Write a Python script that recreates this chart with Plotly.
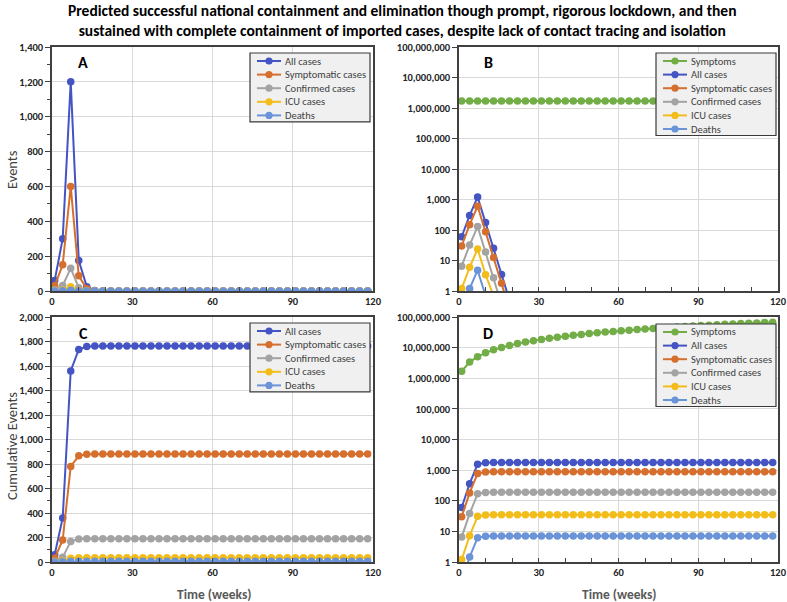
import plotly.graph_objects as go

# ---------------- data ----------------
weeks = [1, 4, 7, 10, 13, 16, 19, 22, 25, 28, 31, 34, 37, 40, 43, 46, 49, 52, 55, 58,
         61, 64, 67, 70, 73, 76, 79, 82, 85, 88, 91, 94, 97, 100, 103, 106, 109, 112, 115, 118]

# weekly events (panels A, B)
symptoms_w = [1.69e6, 1.69e6, 1.69e6, 1.69e6, 1.69e6, 1.69e6, 1.69e6, 1.69e6, 1.69e6, 1.69e6,
              1.69e6, 1.69e6, 1.69e6, 1.69e6, 1.69e6, 1.69e6, 1.69e6, 1.69e6, 1.69e6, 1.69e6,
              1.69e6, 1.69e6, 1.69e6, 1.69e6, 1.69e6, 1.69e6, 1.69e6, 1.69e6, 1.69e6, 1.69e6,
              1.69e6, 1.69e6, 1.69e6, 1.69e6, 1.69e6, 1.69e6, 1.69e6, 1.69e6, 1.69e6, 1.69e6]
all_w = [60, 300, 1200, 175, 25, 3.5, 0.5, 0, 0, 0, 0, 0, 0, 0, 0, 0, 0, 0, 0, 0,
         0, 0, 0, 0, 0, 0, 0, 0, 0, 0, 0, 0, 0, 0, 0, 0, 0, 0, 0, 0]
symp_w = [30, 150, 600, 87, 12.5, 1.8, 0.25, 0, 0, 0, 0, 0, 0, 0, 0, 0, 0, 0, 0, 0,
          0, 0, 0, 0, 0, 0, 0, 0, 0, 0, 0, 0, 0, 0, 0, 0, 0, 0, 0, 0]
conf_w = [6.5, 32, 130, 19, 2.7, 0.4, 0.05, 0, 0, 0, 0, 0, 0, 0, 0, 0, 0, 0, 0, 0,
          0, 0, 0, 0, 0, 0, 0, 0, 0, 0, 0, 0, 0, 0, 0, 0, 0, 0, 0, 0]
icu_w = [1.2, 6, 24, 3.4, 0.7, 0.07, 0, 0, 0, 0, 0, 0, 0, 0, 0, 0, 0, 0, 0, 0,
         0, 0, 0, 0, 0, 0, 0, 0, 0, 0, 0, 0, 0, 0, 0, 0, 0, 0, 0, 0]
death_w = [0.25, 1.2, 4.8, 0.6, 0.1, 0.015, 0, 0, 0, 0, 0, 0, 0, 0, 0, 0, 0, 0, 0, 0,
           0, 0, 0, 0, 0, 0, 0, 0, 0, 0, 0, 0, 0, 0, 0, 0, 0, 0, 0, 0]

# cumulative events (panels C, D)
symptoms_c = [1.69e6, 3.38e6, 5.07e6, 6.76e6, 8.45e6, 10.14e6, 11.83e6, 13.52e6, 15.21e6, 16.9e6,
              18.59e6, 20.28e6, 21.97e6, 23.66e6, 25.35e6, 27.04e6, 28.73e6, 30.42e6, 32.11e6, 33.8e6,
              35.49e6, 37.18e6, 38.87e6, 40.56e6, 42.25e6, 43.94e6, 45.63e6, 47.32e6, 49.01e6, 50.7e6,
              52.39e6, 54.08e6, 55.77e6, 57.46e6, 59.15e6, 60.84e6, 62.53e6, 64.22e6, 65.91e6, 67.6e6]
all_c = [60, 360, 1560, 1735, 1760, 1763, 1764, 1764, 1764, 1764, 1764, 1764, 1764, 1764, 1764, 1764, 1764, 1764, 1764, 1764,
         1764, 1764, 1764, 1764, 1764, 1764, 1764, 1764, 1764, 1764, 1764, 1764, 1764, 1764, 1764, 1764, 1764, 1764, 1764, 1764]
symp_c = [30, 180, 780, 867, 880, 882, 882, 882, 882, 882, 882, 882, 882, 882, 882, 882, 882, 882, 882, 882,
          882, 882, 882, 882, 882, 882, 882, 882, 882, 882, 882, 882, 882, 882, 882, 882, 882, 882, 882, 882]
conf_c = [6.5, 38, 168, 187, 190, 190, 190, 190, 190, 190, 190, 190, 190, 190, 190, 190, 190, 190, 190, 190,
          190, 190, 190, 190, 190, 190, 190, 190, 190, 190, 190, 190, 190, 190, 190, 190, 190, 190, 190, 190]
icu_c = [1.2, 7.2, 31, 34.5, 35, 35, 35, 35, 35, 35, 35, 35, 35, 35, 35, 35, 35, 35, 35, 35,
         35, 35, 35, 35, 35, 35, 35, 35, 35, 35, 35, 35, 35, 35, 35, 35, 35, 35, 35, 35]
death_c = [0.25, 1.45, 6.25, 6.9, 7, 7, 7, 7, 7, 7, 7, 7, 7, 7, 7, 7, 7, 7, 7, 7,
           7, 7, 7, 7, 7, 7, 7, 7, 7, 7, 7, 7, 7, 7, 7, 7, 7, 7, 7, 7]

series_names = ["Symptoms", "All cases", "Symptomatic cases", "Confirmed cases", "ICU cases", "Deaths"]
x_ticks = [0, 30, 60, 90, 120]
log_tickvals = [1, 10, 100, 1000, 10000, 100000, 1000000, 10000000, 100000000]
log_ticktext = ["1", "10", "100", "1,000", "10,000", "100,000", "1,000,000", "10,000,000", "100,000,000"]

title_text = ("<b>Predicted successful national containment and elimination though prompt, rigorous lockdown, and then<br>"
              "sustained with complete containment of imported cases, despite lack of contact tracing and isolation</b>")

# ---------------- styling ----------------
COLORS = {"Symptoms": "#72AD47", "All cases": "#4454C3", "Symptomatic cases": "#D56F2E",
          "Confirmed cases": "#A3A3A3", "ICU cases": "#F2BD1B", "Deaths": "#6B93D8"}
FONT = "Carlito, Calibri, Lato, sans-serif"
AXC = "#404040"
GRID = "#D9D9D9"
W, H = 787, 602

fig = go.Figure()

panels = [
    ("x", "y", {"All cases": all_w, "Symptomatic cases": symp_w, "Confirmed cases": conf_w,
                "ICU cases": icu_w, "Deaths": death_w}),
    ("x2", "y2", {"Symptoms": symptoms_w, "All cases": all_w, "Symptomatic cases": symp_w,
                  "Confirmed cases": conf_w, "ICU cases": icu_w, "Deaths": death_w}),
    ("x3", "y3", {"All cases": all_c, "Symptomatic cases": symp_c, "Confirmed cases": conf_c,
                  "ICU cases": icu_c, "Deaths": death_c}),
    ("x4", "y4", {"Symptoms": symptoms_c, "All cases": all_c, "Symptomatic cases": symp_c,
                  "Confirmed cases": conf_c, "ICU cases": icu_c, "Deaths": death_c}),
]

for xa, ya, data in panels:
    for name in series_names:
        if name not in data:
            continue
        fig.add_trace(go.Scatter(
            x=weeks, y=data[name], name=name, mode="lines+markers",
            xaxis=xa, yaxis=ya, showlegend=False,
            line=dict(color=COLORS[name], width=2),
            marker=dict(color=COLORS[name], size=7.5),
        ))

def px_x(p):
    return p / W

def px_y(p):
    return 1 - p / H

xdom_l = [px_x(52), px_x(373)]
xdom_r = [px_x(459), px_x(778)]
ydom_t = [px_y(291), px_y(47)]
ydom_b = [px_y(562), px_y(317)]

tickfont = dict(family=FONT, size=10.5, color="#262626", weight="bold")

def xaxis(dom, anchor):
    return dict(domain=dom, anchor=anchor, range=[0, 120], tickvals=x_ticks, automargin=False,
                showgrid=True, gridcolor=GRID, gridwidth=1, zeroline=False,
                showline=True, linecolor=AXC, linewidth=1.5, mirror=True,
                ticks="inside", ticklen=4, tickcolor=AXC,
                minor=dict(dtick=10, ticks="inside", ticklen=4, tickcolor=AXC, showgrid=False),
                tickfont=tickfont)

def yaxis_lin(dom, anchor, top):
    return dict(domain=dom, anchor=anchor, range=[0, top], dtick=200, tickformat=",", automargin=False,
                showgrid=True, gridcolor=GRID, gridwidth=1, zeroline=False,
                showline=True, linecolor=AXC, linewidth=1.5, mirror=True,
                ticks="outside", ticklen=5, tickcolor=AXC,
                minor=dict(dtick=100, ticks="outside", ticklen=3, tickcolor=AXC, showgrid=False),
                tickfont=tickfont)

def yaxis_log(dom, anchor):
    return dict(domain=dom, anchor=anchor, type="log", range=[0, 8], automargin=False,
                tickvals=log_tickvals, ticktext=log_ticktext,
                showgrid=True, gridcolor=GRID, gridwidth=1, zeroline=False,
                showline=True, linecolor=AXC, linewidth=1.5, mirror=True,
                ticks="outside", ticklen=5, tickcolor=AXC,
                tickfont=tickfont)

fig.update_layout(
    width=W, height=H, margin=dict(l=0, r=0, t=0, b=0, autoexpand=False),
    paper_bgcolor="white", plot_bgcolor="white",
    showlegend=False,
    xaxis=xaxis(xdom_l, "y"), yaxis=yaxis_lin(ydom_t, "x", 1400),
    xaxis2=xaxis(xdom_r, "y2"), yaxis2=yaxis_log(ydom_t, "x2"),
    xaxis3=xaxis(xdom_l, "y3"), yaxis3=yaxis_lin(ydom_b, "x3", 2000),
    xaxis4=xaxis(xdom_r, "y4"), yaxis4=yaxis_log(ydom_b, "x4"),
)

# ---------------- legends (drawn as paper-space shapes + text) ----------------
def add_legend(left, top, width, names):
    row0, step = 8, 13.6
    height = row0 + (len(names) - 1) * step + 6.5
    fig.add_shape(type="rect", xref="paper", yref="paper",
                  x0=px_x(left), x1=px_x(left + width), y0=px_y(top + height), y1=px_y(top),
                  fillcolor="#F0F0F0", line=dict(color="#3A3A3A", width=1.2), layer="above")
    for i, name in enumerate(names):
        yc = top + row0 + i * step
        c = COLORS[name]
        fig.add_shape(type="line", xref="paper", yref="paper",
                      x0=px_x(left + 7), x1=px_x(left + 31), y0=px_y(yc), y1=px_y(yc),
                      line=dict(color=c, width=2), layer="above")
        r = 3.6
        fig.add_shape(type="circle", xref="paper", yref="paper",
                      x0=px_x(left + 19 - r), x1=px_x(left + 19 + r),
                      y0=px_y(yc + r), y1=px_y(yc - r),
                      fillcolor=c, line=dict(color=c, width=0), layer="above")
        fig.add_annotation(text=name, x=px_x(left + 32.5), y=px_y(yc), xref="paper", yref="paper",
                           xanchor="left", yanchor="middle", showarrow=False,
                           font=dict(family=FONT, size=10.5, color="#404040"))

five = ["All cases", "Symptomatic cases", "Confirmed cases", "ICU cases", "Deaths"]
six = ["Symptoms"] + five
add_legend(250, 53, 120, five)
add_legend(656, 53, 120, six)
add_legend(250, 323, 120, five)
add_legend(656, 324, 120, six)

fig.add_annotation(text=title_text, x=px_x(402), y=px_y(21), xref="paper", yref="paper",
                   xanchor="center", yanchor="middle", showarrow=False, align="center",
                   font=dict(family=FONT, size=15.5, color="#000000"))

annots = [
    dict(text="<b>A</b>", x=px_x(83), y=px_y(62), size=16, color="#000000"),
    dict(text="<b>B</b>", x=px_x(488), y=px_y(62), size=16, color="#000000"),
    dict(text="<b>C</b>", x=px_x(83), y=px_y(333), size=16, color="#000000"),
    dict(text="<b>D</b>", x=px_x(488), y=px_y(333), size=16, color="#000000"),
    dict(text="<b>Time (weeks)</b>", x=px_x(214), y=px_y(594), size=13.5, color="#595959"),
    dict(text="<b>Time (weeks)</b>", x=px_x(619), y=px_y(594), size=13.5, color="#595959"),
]
for a in annots:
    fig.add_annotation(text=a["text"], x=a["x"], y=a["y"], xref="paper", yref="paper",
                       xanchor="center", yanchor="middle", showarrow=False,
                       font=dict(family=FONT, size=a["size"], color=a["color"]))

for txt, yc in [("Events", 170), ("Cumulative Events", 446)]:
    fig.add_annotation(text=txt, x=px_x(12), y=px_y(yc), xref="paper", yref="paper",
                       xanchor="center", yanchor="middle", showarrow=False, textangle=-90,
                       font=dict(family=FONT, size=14.5, color="#404040"))

fig.write_html("out.html", config={"displayModeBar": False},
               post_script="document.body.style.margin='0';document.body.style.overflow='hidden';")
